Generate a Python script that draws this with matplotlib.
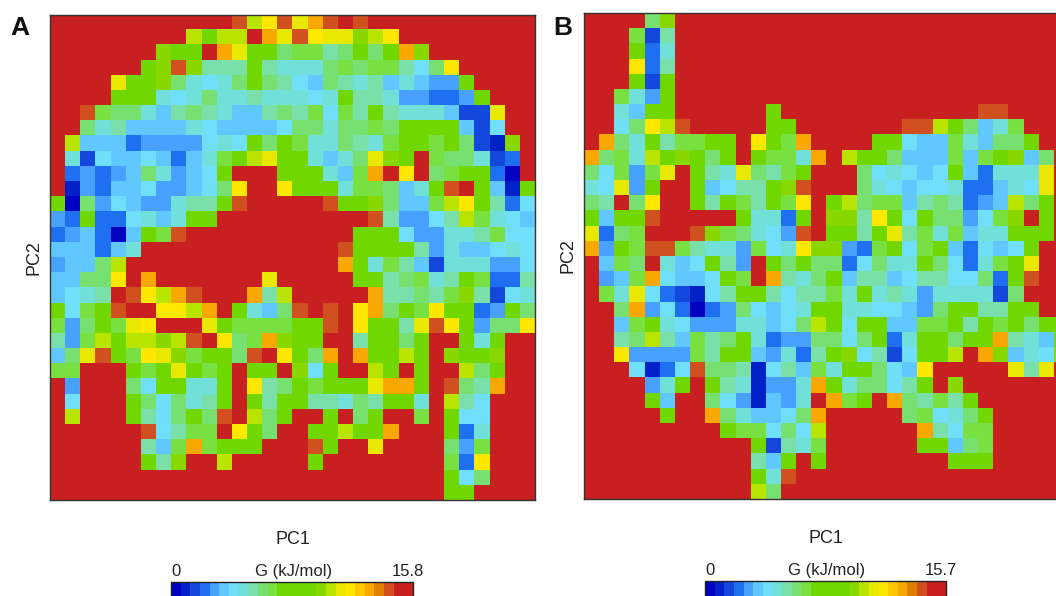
import numpy as np
import matplotlib
matplotlib.use("Agg")
import matplotlib.pyplot as plt
from matplotlib.colors import ListedColormap

plt.rcParams['font.family'] = ['Liberation Sans', 'DejaVu Sans']

# colour steps of the G scale, low to high (25 steps)
level_colors = ["#0000c0", "#0020c8", "#1448dc", "#1e70f0", "#48a0ff", "#60c8ff", "#70e0fa",
                "#70e0d8", "#78e0a8", "#78e070", "#78e040", "#70d800", "#70d800", "#70d800",
                "#70d800", "#88d800", "#b8e400", "#e8e800", "#ffe800", "#ffc800", "#f8a800",
                "#e08000", "#d05020", "#c82020", "#c82020"]

# one letter per cell, letter = step on the scale
level_keys = {"a": 0, "b": 1, "c": 2, "d": 3, "e": 4, "f": 5, "g": 6, "h": 7, "i": 8, "v": 9,
              "j": 10, "k": 12, "l": 15, "m": 16, "n": 17, "o": 18, "p": 19, "q": 20, "r": 21,
              "s": 22, "t": 24}

# rows from the top of the panel down
rows_a = [
    "t"*12 + "smosnqsts" + "t"*11,
    "t"*9 + "mkmmtqnsonnlmo" + "t"*9,
    "t"*7 + "lkktqnkkvjjivkvkql" + "t"*7,
    "t"*6 + "klsliiikihhhvjvjjigvo" + "t"*5,
    "t"*4 + "nkklvhghvkvigfvihifhfeek" + "t"*4,
    "t"*4 + "kkkhghvhhihhhghkiiheeddek" + "t"*3,
    "tt" + "sjvvhfivihffivijgjikihhhfccn" + "tt",
    "tt" + "vhiffffhgffffgvvhvvjvkkkkfcg" + "tt",
    "tmfffdeeeeghgkvkjhhvihjkkjkvcblt",
    "thcgffgfdfhjkmnkkhfhvnlktjvvhcdt",
    "tdedefvhefgktttkkkhfjqtotvjkkdat",
    "tbedffgeefgvottokkkhjjvfhkstkfbk",
    "kavegfeehiikstttttskklvffjmokidg",
    "edkddghfhkk" + "t"*10 + "sieegimjhgf",
    "defdafkjs" + "t"*11 + "kkkgeehhijgg",
    "fffdfh" + "t"*13 + "skkkkiehffghg",
    "effvm" + "t"*14 + "qkhjifchhheeg",
    "ffvvotq" + "t"*7 + "n" + "t"*5 + "kkivjhikjddi",
    "fghitsomqstttqim" + "t"*5 + "qiivijlicgh",
    "kgjksttoomqtkhfvstst" + "oqvkjokkdekv",
    "jevkjnotttnkjjjjkkstokkinsokevvo",
    "iejmkmmlmstovjqlkkttikkvkttkhktt",
    "fvnskjonljkkvstokvqtqkkmktlkkltt",
    "jjtttkjknkjktkktlgkttmktkttmvktt",
    "tetttvgkkhhktoivkjkkknqqktsviqtt",
    "tgtttkvgvhiktkikkiihvikkhtmigttt",
    "tmtttkigvkvstmvkttktvkttjtkgg" + "ttt",
    "t"*6 + "sgijjtokvttkkmkkqtttkdh" + "ttt",
    "t"*6 + "ifjqjkkk" + "ttt" + "sk" + "tt" + "n" + "tttt" + "vej" + "ttt",
    "t"*6 + "kiltt" + "m" + "t"*5 + "k" + "t"*8 + "jdo" + "ttt",
    "t"*26 + "kgv" + "ttt",
    "t"*26 + "kk" + "tttt",
]

rows_b = [
    "t"*4 + "vl" + "t"*26,
    "ttt" + "jci" + "t"*26,
    "ttt" + "kdh" + "t"*26,
    "ttt" + "odi" + "t"*26,
    "ttt" + "kck" + "t"*26,
    "tt" + "jhek" + "t"*26,
    "tt" + "hfkk" + "t"*6 + "k" + "t"*13 + "ss" + "t"*4,
    "tt" + "gvomsttttt" + "kk" + "t"*7 + "ssmkvfhj" + "ttt",
    "tqvhkijjkktokjqttttkkgffjhfvvktt",
    "qvjhmklkvktkjjhqtmkkvfffjfjklfvt",
    "vgjejntkihnvijktttvghgfgkfdhhhnt",
    "hgnekttkfgiiklstttvhgfgghddfhgnt",
    "vitvottkikjikjotkmvjjfividefmvkt",
    "kfkkstttttkhhdktlliokgkvvegjltkt",
    "ndvjtttsljvhgestkkiknijhjfhhkkkt",
    "qekjssjihhejgholledjkgjkfdgfgktt",
    "tfjvthfgkietkvkvvdgvhhkvgdhjkntt",
    "tefjqgffgkjtqihvkfiifgiiggvdkstt",
    "tjhngdcbgikkigiijhkhihehhhhcvttt",
    "ttvqegdadevgfghkkhhggfevkkiikktt",
    "ttfjkhgeeehhfgvmkgkkffjjkikjkvkk",
    "ttivmifjivkhdeevvgvkdhkkvkkqihfk",
    "ttoeeeejikkfehdiklgicgkkmtqlfhgl",
    "tttgbdgsvvibgifjhkkvgfo" + "t"*5 + "nint",
    "tttt" + "ehktkihbeehqkhvvgiktl" + "t"*7,
    "ttttkfttvgebfehtqjktqvijik" + "t"*6,
    "t"*5 + "kttqvhffgvq" + "t"*5 + "vjghvk" + "t"*5,
    "t"*9 + "kjjgvgm" + "t"*6 + "qigjj" + "t"*5,
    "t"*11 + "kcihj" + "t"*6 + "kkfvj" + "t"*5,
    "t"*11 + "ifktk" + "t"*8 + "kkk" + "t"*5,
    "t"*11 + "khs" + "t"*18,
    "t"*11 + "mv" + "t"*19,
]

g_max_a = 15.8
g_max_b = 15.7
n_levels = len(level_colors)


def rows_to_g(rows, g_max):
    for row in rows:
        assert len(row) == 32, row
    steps = np.array([[level_keys[c] for c in row] for row in rows])
    return (steps + 0.5) * g_max / n_levels


cmap = ListedColormap(level_colors)
W, H = 1056, 596
fig = plt.figure(figsize=(W / 100, H / 100), dpi=100)


def box(left, top, right, bottom):
    return [left / W, 1 - bottom / H, (right - left) / W, (bottom - top) / H]


def panel(rows, g_max, frame, bar, letter, letter_x):
    ax = fig.add_axes(box(*frame))
    im = ax.imshow(rows_to_g(rows, g_max), cmap=cmap, vmin=0, vmax=g_max, aspect="auto",
                   interpolation="nearest")
    ax.set_xticks([])
    ax.set_yticks([])
    for s in ax.spines.values():
        s.set_linewidth(1.0)
        s.set_color("#333333")
    ax.set_xlabel("PC1", fontsize=13, labelpad=22.5, color="#222222")
    ax.set_ylabel("PC2", fontsize=13, labelpad=5.5, color="#222222")

    cax = fig.add_axes(box(*bar))
    cb = fig.colorbar(im, cax=cax, orientation="horizontal", ticks=[])
    cb.outline.set_linewidth(1.0)
    cb.outline.set_edgecolor("#222222")
    # labels sit just above the bar
    for x, label in [(0.02, "0"), (0.505, "G (kJ/mol)"), (0.98, str(g_max))]:
        cax.annotate(label, (x, 1), xycoords="axes fraction", xytext=(0, 2.5),
                     textcoords="offset points", ha="center", va="bottom",
                     fontsize=12, color="#222222")
    fig.text(letter_x / W, 1 - 28 / H, letter, fontsize=19, fontweight="bold",
             ha="center", va="center", color="#111111")


panel(rows_a, g_max_a, (50, 14.5, 535, 500), (171, 582, 413, 606), "A", 20)
panel(rows_b, g_max_b, (583.7, 13, 1068.5, 499), (705, 581, 946, 606), "B", 563)

fig.savefig("out.png", dpi=100)
